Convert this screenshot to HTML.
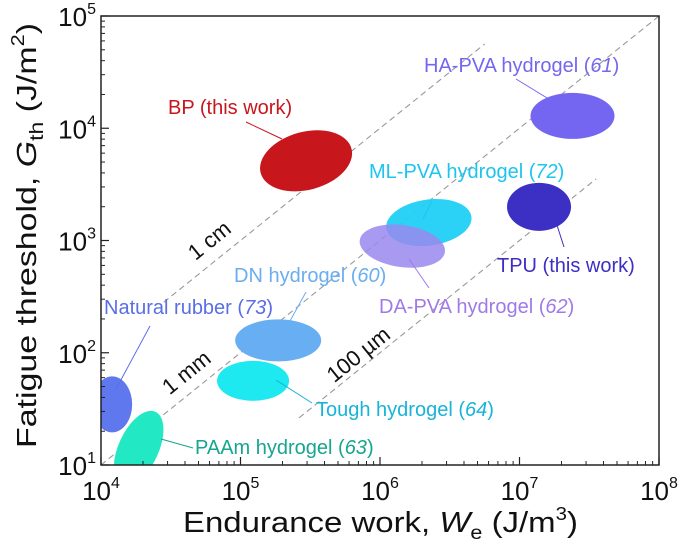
<!DOCTYPE html>
<html><head><meta charset="utf-8"><style>
html,body{margin:0;padding:0;background:#fff;}
svg{display:block;font-family:"Liberation Sans",Arial,sans-serif;}
</style></head><body>
<svg id="chart" width="679" height="544" viewBox="0 0 679 544" xmlns="http://www.w3.org/2000/svg">
<defs><clipPath id="plotclip"><rect x="101" y="16" width="558" height="449"/></clipPath></defs>
<g id="guides" clip-path="url(#plotclip)"></g>
<g id="ellipses" clip-path="url(#plotclip)"></g>
<g id="leaders"></g>
<g id="labels"></g>
<rect x="101" y="16" width="558" height="449" fill="none" stroke="#222" stroke-width="1.5"/>
<g id="ticks"></g>
<text x="183" y="532" font-size="29" fill="#111" textLength="395" lengthAdjust="spacingAndGlyphs">Endurance work, <tspan font-style="italic">W</tspan><tspan font-size="19" dy="7">e</tspan><tspan dy="-7"> (J/m</tspan><tspan font-size="18" dy="-12">3</tspan><tspan dy="12">)</tspan></text>
<text transform="translate(36,448) rotate(-90)" font-size="28" fill="#111" textLength="425" lengthAdjust="spacingAndGlyphs">Fatigue threshold, <tspan font-style="italic">G</tspan><tspan font-size="19" dy="7">th</tspan><tspan dy="-7"> (J/m</tspan><tspan font-size="18" dy="-12">2</tspan><tspan dy="12">)</tspan></text>
</svg>
<script>
const materials = ["BP","HA-PVA","TPU","ML-PVA","DA-PVA","DN","Tough","Natural rubber","PAAm"];
const logW = [5.47,7.38,7.14,6.35,6.16,5.27,5.09,4.08,4.27];
const logG = [3.71,4.11,3.30,3.16,2.95,2.11,1.75,1.54,1.15];
const guideOffsets = [2,3,4]; // log G = log W - offset
const guideNames = ["1 cm","1 mm","100 µm"];
const xTicks = [4,5,6,7,8];
const yTicks = [1,2,3,4,5];

const X0=101,X1=659,Y0=465,Y1=16;
const xs = v => X0 + (v-4)/(8-4)*(X1-X0);
const ys = v => Y0 - (v-1)/(5-1)*(Y0-Y1);
const NS="http://www.w3.org/2000/svg";
function mk(tag,attrs,parent){const e=document.createElementNS(NS,tag);for(const k in attrs)e.setAttribute(k,attrs[k]);parent.appendChild(e);return e;}

const styles=[
 {fill:"#c8161d",rx:47,ry:29,rot:-15,op:1},
 {fill:"#7466f0",rx:42,ry:23,rot:0,op:1},
 {fill:"#3b2fc4",rx:32,ry:24,rot:0,op:1},
 {fill:"#20d0f4",rx:43,ry:23,rot:-8,op:0.95},
 {fill:"#9a88ee",rx:43,ry:21,rot:8,op:0.85},
 {fill:"#68aef2",rx:43,ry:21,rot:0,op:1},
 {fill:"#1ee8f0",rx:36,ry:20,rot:0,op:1},
 {fill:"#6078ee",rx:20,ry:28,rot:0,op:1},
 {fill:"#22e8c4",rx:40,ry:20,rot:-65,op:1}];
const eg=document.getElementById('ellipses');
materials.forEach((m,i)=>{
 const s=styles[i],cx=xs(logW[i]),cy=ys(logG[i]);
 const e=mk('ellipse',{cx:cx,cy:cy,rx:s.rx,ry:s.ry,fill:s.fill,'fill-opacity':s.op,transform:`rotate(${s.rot} ${cx} ${cy})`},eg);
 
 
});
const gg=document.getElementById('guides');
const gExt=[[4.45,6.75],[4,8],[5.42,7.55]];
guideOffsets.forEach((o,i)=>{
 const a=gExt[i][0],b=gExt[i][1];
 const l=mk('line',{x1:xs(a),y1:ys(a-o),x2:xs(b),y2:ys(b-o),stroke:"#999",'stroke-width':1.1,'stroke-dasharray':"6 4"},gg);
 
 
});
const ang=-Math.atan(((Y0-Y1)/4)/((X1-X0)/4))*180/Math.PI;
const gl=[[209,240],[186,372],[358,354]];
const lg=document.getElementById('labels');
guideNames.forEach((n,i)=>{
 const t=mk('text',{x:gl[i][0],y:gl[i][1]+8,'text-anchor':'middle','font-size':22,fill:'#111',transform:`rotate(${ang} ${gl[i][0]} ${gl[i][1]})`},lg);
 t.textContent=n;
 
 
});
const labs=[
 ["BP (this work)","",168,114,"#c8161d"],
 ["HA-PVA hydrogel (","61",424,72,"#7466f0"],
 ["TPU (this work)","",497,272,"#3b2fc4"],
 ["ML-PVA hydrogel (","72",369,178,"#1cc4ee"],
 ["DA-PVA hydrogel (","62",379,313,"#a07ae6"],
 ["DN hydrogel (","60",234,282,"#6aaef0"],
 ["Tough hydrogel (","64",316,416,"#18b4d8"],
 ["Natural rubber (","73",104,314,"#5a6ee6"],
 ["PAAm hydrogel (","63",195,454,"#16a58e"]];
labs.forEach((L,i)=>{
 const t=mk('text',{x:L[2],y:L[3],'font-size':20,fill:L[4]},lg);
 if(L[1]){t.appendChild(document.createTextNode(L[0]));const sp=mk('tspan',{'font-style':'italic'},t);sp.textContent=L[1];t.appendChild(document.createTextNode(')'));}
 else t.textContent=L[0];
 
 
});
const leaders=[[246,122,282,139],[516,79,552,101],[564,247,555,219],[432,201,423,219],[409,259,429,288],[306,292,285,330],[276,380,312,403],[150,326,116,389],[161,439,193,448]];
const ld=document.getElementById('leaders');
leaders.forEach((p,i)=>{
 const l=mk('line',{x1:p[0],y1:p[1],x2:p[2],y2:p[3],stroke:labs[i][4],'stroke-width':1},ld);
 
 
});
const tg=document.getElementById('ticks');
xTicks.forEach(v=>{
 const x=xs(v);
 mk('line',{x1:x,y1:Y0,x2:x,y2:Y0-8,stroke:'#222','stroke-width':1.2},tg);
 if(v<8)for(let k=2;k<10;k++){const xx=xs(v+Math.log10(k));mk('line',{x1:xx,y1:Y0,x2:xx,y2:Y0-4,stroke:'#222','stroke-width':1},tg);}
 const t=mk('text',{x:x,y:500,'text-anchor':'middle','font-size':26,fill:'#111'},tg);
 t.textContent='10';const s=mk('tspan',{'font-size':16,dy:-12},t);s.textContent=String(v);
 
 
});
yTicks.forEach(v=>{
 const y=ys(v);
 mk('line',{x1:X0,y1:y,x2:X0+8,y2:y,stroke:'#222','stroke-width':1.2},tg);
 if(v<5)for(let k=2;k<10;k++){const yy=ys(v+Math.log10(k));mk('line',{x1:X0,y1:yy,x2:X0+4,y2:yy,stroke:'#222','stroke-width':1},tg);}
 const t=mk('text',{x:96,y:y+10,'text-anchor':'end','font-size':26,fill:'#111'},tg);
 t.textContent='10';const s=mk('tspan',{'font-size':16,dy:-12},t);s.textContent=String(v);
 
 
});
</script>
</body></html>
